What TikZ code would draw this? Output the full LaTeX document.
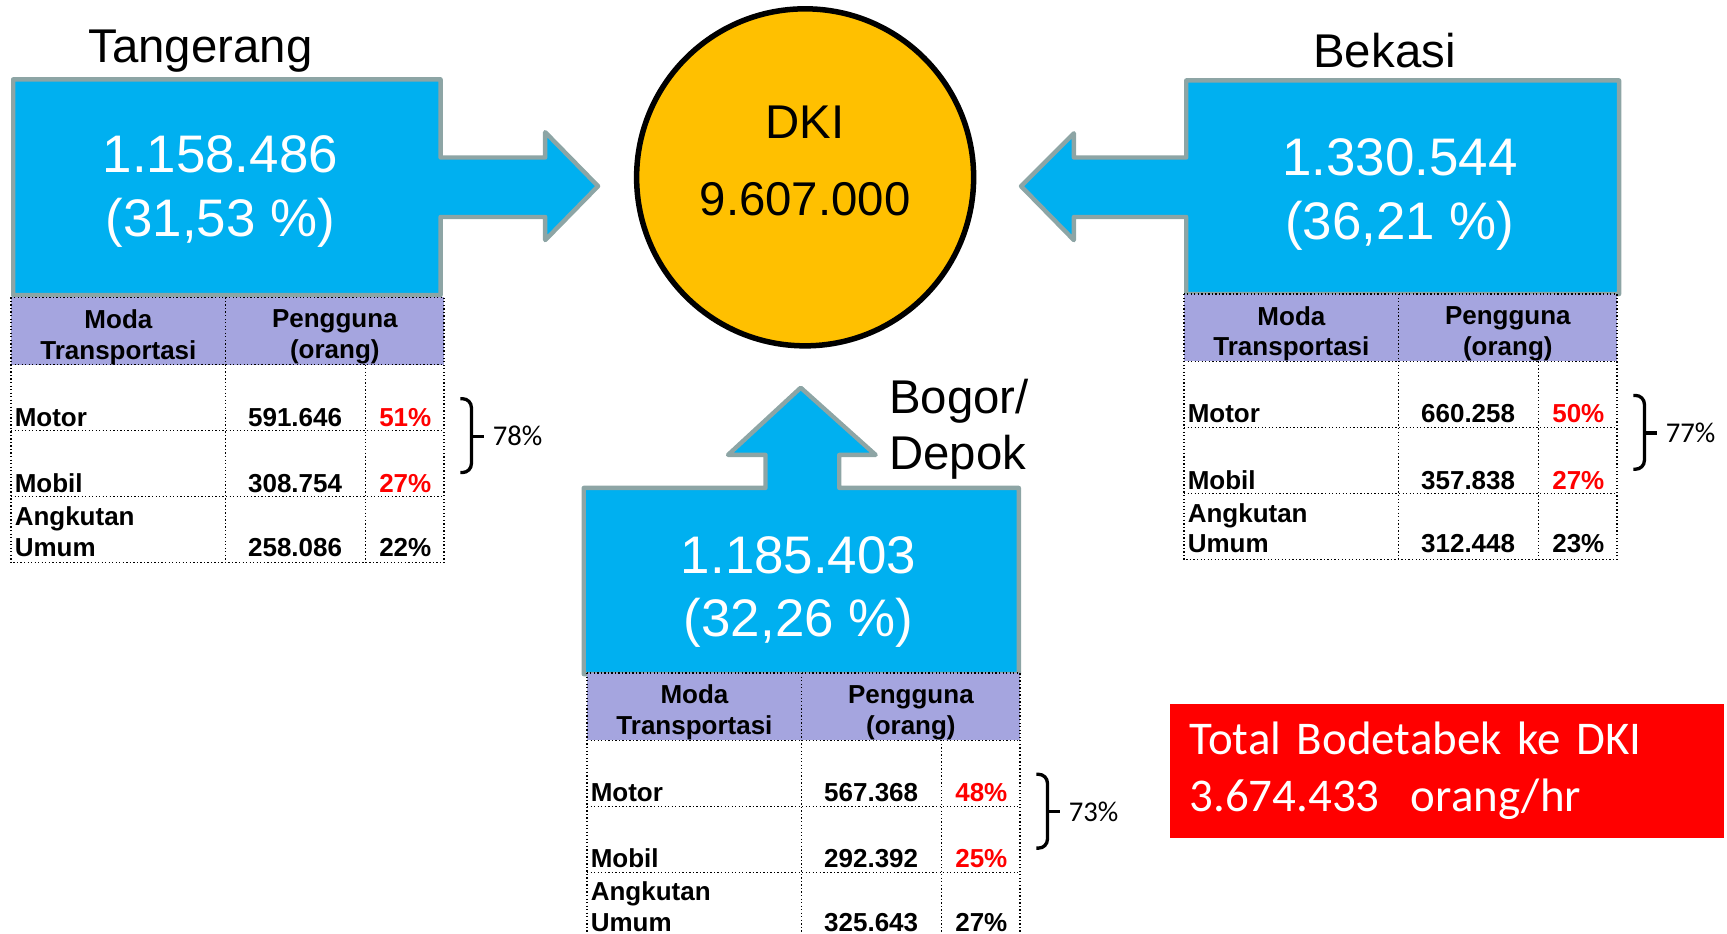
\documentclass[tikz,border=0pt]{standalone}
\usepackage{fontspec}
\setmainfont{Liberation Sans}
\newfontfamily\carlito{Carlito}
\definecolor{biru}{HTML}{00B0F0}
\definecolor{tepi}{HTML}{8DA5A5}
\definecolor{ungu}{HTML}{A5A5DF}
\definecolor{jingga}{HTML}{FFC000}
\definecolor{merah}{HTML}{FF0000}

\tikzset{
  blok/.style={fill=biru,draw=tepi,line width=2pt,line join=round},
  angka/.style={text=white,align=center,font=\fontsize{24}{29}\selectfont},
  kota/.style={font=\fontsize{21.5}{25.5}\selectfont},
  garis/.style={densely dotted,line width=0.6pt},
  isi/.style={font=\bfseries\fontsize{11.8}{14}\selectfont,inner sep=0pt},
  kurung/.style={line width=1.5pt,rounded corners=4pt},
  persen/.style={font=\carlito\fontsize{13}{15}\selectfont,inner sep=0pt}
}

\newcommand{\tabelmoda}[9]{%
  \begin{scope}[shift={#2}]
    \fill[ungu] (0,0) rectangle (393,61);
    \draw[garis] (0,0) rectangle (393,241);
    \draw[garis] (0,61) -- (393,61) (0,121) -- (393,121) (0,181) -- (393,181);
    \draw[garis] (195,0) -- (195,241) (322,61) -- (322,241);
    \node[isi,align=center] (#1moda) at (97.5,36) {Moda\\Transportasi};
    \node[isi,align=center] (#1guna) at (294,36) {Pengguna\\(orang)};
    \node[isi,anchor=base west] (#1motor) at (3,117) {Motor};
    \node[isi,anchor=base east] (#1motorv) at (301,117) {#3};
    \node[isi,anchor=base east,text=merah] (#1motorp) at (382,117) {#4};
    \node[isi,anchor=base west] (#1mobil) at (3,177) {Mobil};
    \node[isi,anchor=base east] (#1mobilv) at (301,177) {#5};
    \node[isi,anchor=base east,text=merah] (#1mobilp) at (382,177) {#6};
    \node[isi,anchor=base west] (#1angkutan) at (3,207) {Angkutan};
    \node[isi,anchor=base west] (#1umum) at (3,235) {Umum};
    \node[isi,anchor=base east] (#1umumv) at (301,235) {#7};
    \node[isi,anchor=base east] (#1umump) at (382,235) {#8};
    \coordinate (#1atas) at (408,92);
    \coordinate (#1bawah) at (408,159);
    \coordinate (#1ujung) at (429,126);
    \draw[kurung] (#1atas) -- ++(10,0) |- (#1bawah);
    \draw[kurung] (#1ujung) -- ++(-11,0);
    \node[persen,anchor=west] (#1total) at (437,126) {#9};
  \end{scope}}

\begin{document}
\begin{tikzpicture}[x=0.5pt,y=-0.5pt]
  \useasboundingbox (0,0) rectangle (1568,848);
  \clip (0,0) rectangle (1568,848);

  \draw[blok] (12,72) -- (400,72) -- (400,143) -- (495,143) -- (495,120) -- (543,169)
    -- (495,218) -- (495,197) -- (400,197) -- (400,268) -- (12,268) -- cycle;
  \draw[blok] (1470,73) -- (1077,73) -- (1077,143) -- (975,143) -- (975,121) -- (927,169)
    -- (975,218) -- (975,197) -- (1077,197) -- (1077,267) -- (1470,267) -- cycle;
  \draw[blok] (530,612) -- (530,443) -- (695,443) -- (695,413) -- (661,413) -- (727,352)
    -- (795,413) -- (762,413) -- (762,443) -- (925,443) -- (925,612) -- cycle;

  \node[circle,draw,fill=jingga,line width=2.5pt,minimum size=153pt,inner sep=0pt] (dki) at (731,161) {};
  \node[align=center,font=\fontsize{21.5}{35}\selectfont] (dkiisi) at (731,146) {DKI\\9.607.000};

  \node[kota] (tangerang) at (182,46) {Tangerang};
  \node[kota] (bekasi) at (1257,46) {Bekasi};
  \node[kota,align=left,anchor=west,inner sep=0pt] (bogor) at (807,390) {Bogor/\\Depok};

  \node[angka] (tngisi) at (200,174) {1.158.486\\(31,53 \%)};
  \node[angka] (bksisi) at (1271,176.5) {1.330.544\\(36,21 \%)};
  \node[angka] (bgrisi) at (725,537.5) {1.185.403\\(32,26 \%)};

  \tabelmoda{tng}{(10,270)}{591.646}{51\%}{308.754}{27\%}{258.086}{22\%}{78\%}
  \tabelmoda{bks}{(1075,267)}{660.258}{50\%}{357.838}{27\%}{312.448}{23\%}{77\%}
  \tabelmoda{bgr}{(533,611)}{567.368}{48\%}{292.392}{25\%}{325.643}{27\%}{73\%}

  \node[fill=merah,text=white,minimum width=251.5pt,minimum height=61pt,inner xsep=9pt,
    text width=233.5pt,align=left,font=\carlito\fontsize{21.3}{26}\selectfont]
    (total) at (1313.5,700) {Total Bodetabek ke DKI\\3.674.433\ \ orang/hr};
\end{tikzpicture}
\end{document}
